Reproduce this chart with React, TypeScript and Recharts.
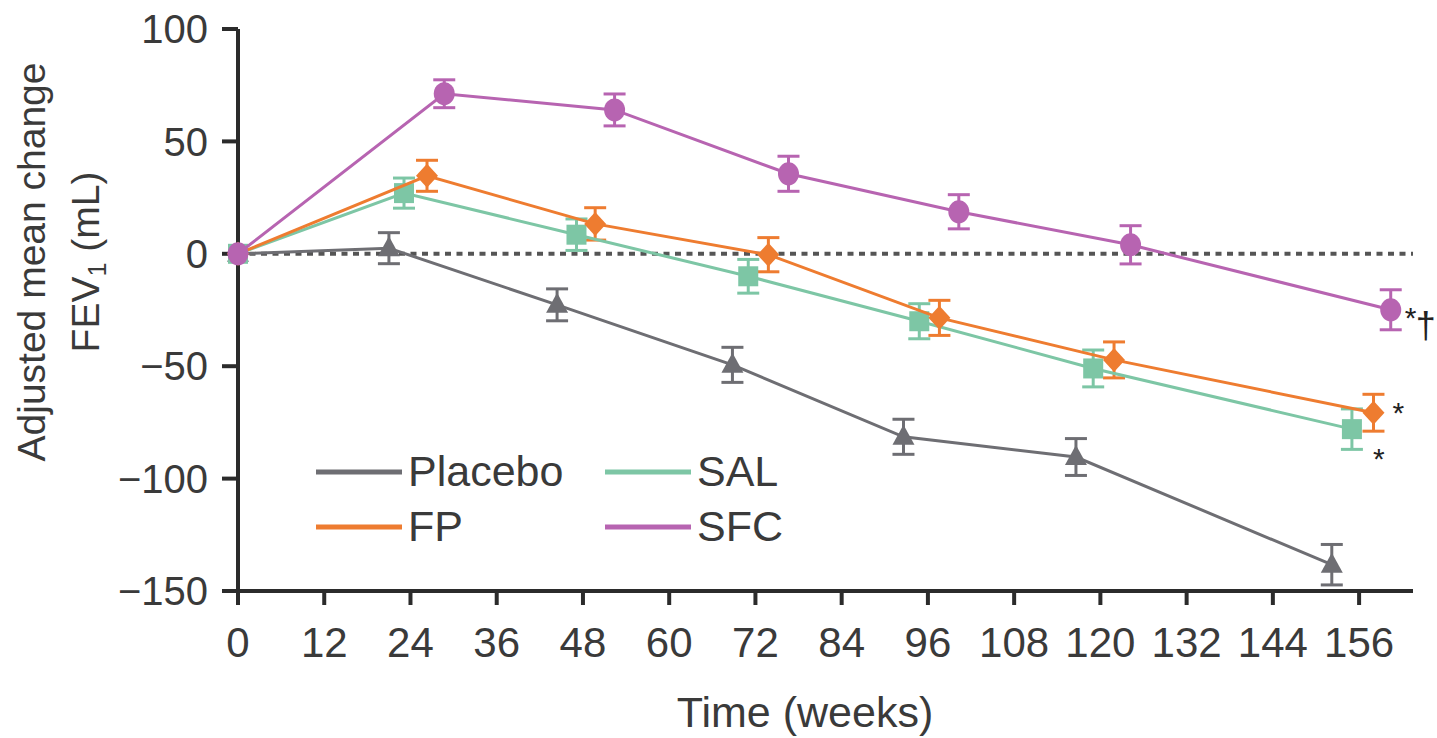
import React from 'react';
import { ScatterChart, Scatter, XAxis, YAxis, ErrorBar, ReferenceLine, Legend } from 'recharts';

// Visit weeks are staggered per arm so the error bars don't sit on top of each other
const WEEK_TICKS = [0, 12, 24, 36, 48, 60, 72, 84, 96, 108, 120, 132, 144, 156];
const CHANGE_TICKS = [-150, -100, -50, 0, 50, 100];

const PLACEBO_WEEKS = [0, 21, 44.4, 68.8, 92.6, 116.6, 152.2];
const PLACEBO_CHANGE = [0, 2.5, -22.7, -49.4, -81.4, -90.4, -138.3];
const PLACEBO_SE = [0, 6.9, 7.1, 7.8, 7.8, 8.2, 9];

const SAL_WEEKS = [0, 23.1, 47.1, 71, 94.8, 119, 155];
const SAL_CHANGE = [0, 27, 8.5, -10, -30, -51, -78];
const SAL_SE = [0, 6.7, 7, 7.5, 7.8, 8.2, 9];

const FP_WEEKS = [0, 26.3, 49.7, 73.8, 97.6, 121.9, 158];
const FP_CHANGE = [0, 34.7, 13.3, -0.4, -28.5, -47.2, -70.7];
const FP_SE = [0, 6.9, 7.2, 7.6, 7.8, 8, 8.2];

const SFC_WEEKS = [0, 28.7, 52.4, 76.6, 100.3, 124.2, 160.4];
const SFC_CHANGE = [0, 71.2, 64, 35.6, 18.7, 4, -24.9];
const SFC_SE = [0, 6.2, 7.1, 7.8, 7.6, 8.5, 8.9];

const FONT = '"Liberation Sans", Arial, Helvetica, sans-serif';
const INK = '#3a3a3a';
const AXIS = '#2b2b2b';

type Note = { text: string; dx: number; dy: number; size: number };

const SERIES = [
  { name: 'Placebo', color: '#6e6e73', marker: 'triangle', weeks: PLACEBO_WEEKS, change: PLACEBO_CHANGE, se: PLACEBO_SE, notes: [] as Note[] },
  {
    name: 'SAL', color: '#7dc6a5', marker: 'square', weeks: SAL_WEEKS, change: SAL_CHANGE, se: SAL_SE,
    notes: [{ text: '*', dx: 21, dy: 40, size: 30 }],
  },
  {
    name: 'FP', color: '#ee7c30', marker: 'diamond', weeks: FP_WEEKS, change: FP_CHANGE, se: FP_SE,
    notes: [{ text: '*', dx: 19, dy: 10, size: 30 }],
  },
  {
    name: 'SFC', color: '#b764b1', marker: 'circle', weeks: SFC_WEEKS, change: SFC_CHANGE, se: SFC_SE,
    notes: [
      { text: '*', dx: 14, dy: 18, size: 30 },
      { text: '†', dx: 25, dy: 28, size: 36 },
    ],
  },
];

// legend grid order: Placebo, SAL / FP, SFC
const LEGEND_ORDER = ['Placebo', 'SAL', 'FP', 'SFC'];

const toRows = (s: (typeof SERIES)[number]) =>
  s.weeks.map((w, i) => ({ x: w, y: s.change[i], err: s.se[i], last: i === s.weeks.length - 1 }));

const makeShape = (s: (typeof SERIES)[number]) => (props: any) => {
  const { cx, cy, payload } = props;
  if (cx == null || cy == null) return <g />;
  let mark: React.ReactNode;
  if (s.marker === 'circle') {
    mark = <ellipse cx={cx} cy={cy} rx={10.5} ry={11.5} fill={s.color} />;
  } else if (s.marker === 'square') {
    mark = <rect x={cx - 10} y={cy - 10} width={20} height={20} fill={s.color} />;
  } else if (s.marker === 'diamond') {
    mark = <polygon points={`${cx},${cy - 12} ${cx + 11},${cy} ${cx},${cy + 12} ${cx - 11},${cy}`} fill={s.color} />;
  } else {
    mark = <polygon points={`${cx},${cy - 12} ${cx + 11},${cy + 8} ${cx - 11},${cy + 8}`} fill={s.color} />;
  }
  return (
    <g>
      {mark}
      {payload && payload.last &&
        s.notes.map((n, k) => (
          <text key={k} x={cx + n.dx} y={cy + n.dy} fontSize={n.size} fontFamily={FONT} fill="#222">
            {n.text}
          </text>
        ))}
    </g>
  );
};

const XTitle = () => (
  <text x={805} y={727} textAnchor="middle" fontSize={43} fontFamily={FONT} fill={INK}>
    Time (weeks)
  </text>
);

const YTitle = () => (
  <g fontFamily={FONT} fill={INK} fontSize={39}>
    <text transform="translate(45,262) rotate(-90)" textAnchor="middle">
      Adjusted mean change
    </text>
    <text transform="translate(99,262) rotate(-90)" textAnchor="middle">
      FEV<tspan fontSize={25} dy={7}>1</tspan>
      <tspan dy={-7}> (mL)</tspan>
    </text>
  </g>
);

const LegendBox = () => (
  <div
    style={{
      display: 'grid',
      gridTemplateColumns: '289px 220px',
      fontFamily: FONT,
      fontSize: 43,
      color: INK,
    }}
  >
    {LEGEND_ORDER.map((name) => {
      const s = SERIES.find((d) => d.name === name)!;
      return (
        <div key={name} style={{ display: 'flex', alignItems: 'center', height: 55 }}>
          <svg width={86} height={6} style={{ display: 'block' }}>
            <line x1={0} y1={3} x2={86} y2={3} stroke={s.color} strokeWidth={5} />
          </svg>
          <span style={{ marginLeft: 6, lineHeight: 1 }}>{name}</span>
        </div>
      );
    })}
  </div>
);

const tickStyle = { fontSize: 42, fontFamily: FONT, fill: INK };
const formatChange = (v: number) => (v < 0 ? `\u2212${Math.abs(v)}` : `${v}`);

export default function App() {
  return (
    <div style={{ position: 'absolute', left: 0, top: 0, background: '#fff' }}>
      <ScatterChart width={1437} height={738} margin={{ top: 29, right: 24, bottom: 0, left: 0 }}>
        <XAxis
          type="number"
          dataKey="x"
          domain={[0, 163.5]}
          ticks={WEEK_TICKS}
          interval={0}
          height={147}
          tickSize={14}
          tickMargin={22}
          axisLine={{ stroke: AXIS, strokeWidth: 4 }}
          tickLine={{ stroke: AXIS, strokeWidth: 4 }}
          tick={tickStyle}
          label={<XTitle />}
        />
        <YAxis
          type="number"
          dataKey="y"
          domain={[-150, 100]}
          ticks={CHANGE_TICKS}
          interval={0}
          width={238}
          tickSize={16}
          tickMargin={14}
          axisLine={{ stroke: AXIS, strokeWidth: 4 }}
          tickLine={{ stroke: AXIS, strokeWidth: 4 }}
          tick={{ ...tickStyle, fontSize: 40 }}
          tickFormatter={formatChange}
          label={<YTitle />}
        />
        <ReferenceLine y={0} stroke="#555" strokeWidth={4} strokeDasharray="6 5.5" />
        {SERIES.map((s) => (
          <Scatter
            key={s.name}
            name={s.name}
            data={toRows(s)}
            fill={s.color}
            line={{ stroke: s.color, strokeWidth: 3 }}
            lineType="joint"
            shape={makeShape(s)}
            isAnimationActive={false}
          >
            <ErrorBar dataKey="err" direction="y" width={11} stroke={s.color} strokeWidth={3} />
          </Scatter>
        ))}
        <Legend
          layout="horizontal"
          verticalAlign="middle"
          align="center"
          wrapperStyle={{ left: 316, top: 444, width: 520 }}
          content={<LegendBox />}
        />
      </ScatterChart>
    </div>
  );
}
